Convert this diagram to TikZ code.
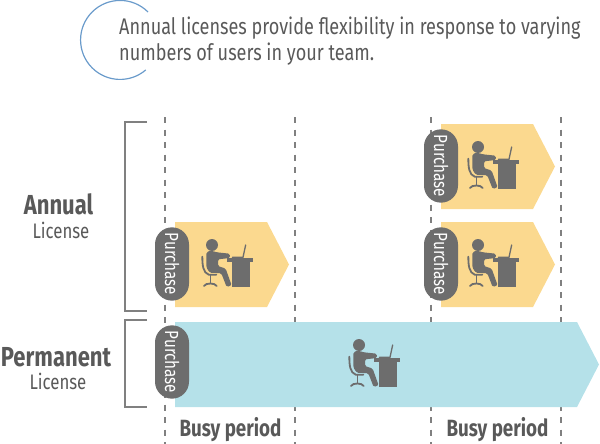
\documentclass[tikz,border=0pt]{standalone}
\usepackage{fontspec}
\setmainfont[FakeStretch=0.8]{Fira Sans}
\definecolor{gr}{HTML}{6D6D6D}
\definecolor{txt}{HTML}{595959}
\definecolor{dashc}{HTML}{808080}
\definecolor{yel}{HTML}{FBD98F}
\definecolor{blu}{HTML}{B5E1E9}
\definecolor{arcb}{HTML}{6A9BCB}
\usetikzlibrary{shapes.misc}
\tikzset{
 guide/.style={draw=dashc,line width=2.5pt,dash pattern=on 6pt off 6.5pt},
 bracket/.style={draw=dashc,line width=1.2pt},
 pill/.style={draw=none,fill=gr,rounded rectangle},
 purchase/.style={text=white,rotate=-90,font=\fontsize{19}{22}\selectfont,inner sep=0pt},
 hd/.style={text=txt,font=\fontsize{27.5}{30}\selectfont\bfseries,inner sep=0pt},
 sb/.style={text=txt,font=\fontsize{21}{24}\selectfont,inner sep=0pt},
 busy/.style={text=txt,font=\fontsize{23.5}{26}\selectfont\bfseries,inner sep=0pt},
 intro/.style={text=txt,font=\fontsize{22.6}{26}\selectfont,inner sep=0pt,anchor=base west},
 person/.pic={
  \begin{scope}[x=0.3333pt,y=-0.3333pt,shift={(-30,-30)}]
  \fill[gr] (57,45) circle[radius=6pt];
  \fill[gr,rounded corners=1.5pt] (40,76) .. controls (40,66) and (48,62) .. (58,63) -- (72,67) -- (110,71) -- (111,84) -- (75,88) -- (75,108) -- (98,116) -- (116,166) -- (101,171) -- (85,130) -- (50,128) -- (40,112) -- cycle;
  \draw[gr,line width=1.8pt,line cap=round] (28,80) .. controls (28,105) and (30,128) .. (47,134) -- (70,134);
  \draw[gr,line width=1.5pt] (52,134) -- (52,158);
  \draw[gr,line width=1.8pt,line cap=round] (33,168) .. controls (38,158) and (66,158) .. (71,168);
  \fill[gr] (103,85) rectangle (180,95);
  \fill[gr] (118,95) rectangle (170,172);
  \draw[gr,line width=1.3pt,line cap=round] (118,82) -- (150,82) -- (158,45);
  \end{scope}
 }
}
\begin{document}
\begin{tikzpicture}[x=1pt,y=-1pt]
\useasboundingbox (0,0) rectangle (600,444);
% intro arc
\coordinate (arcs) at (148,12);
\draw[arcb,line width=1.2pt] (arcs) arc[start angle=45,end angle=310.5,radius=39.5pt];
\node[intro] (t1) at (119,35) {Annual licenses provide flexibility in response to varying};
\node[intro] (t2) at (119,61) {numbers of users in your team.};
% guides
\foreach \x/\n in {165/a,295/b,431/c,561/d}{
 \coordinate (g\n1) at (\x,117);
 \coordinate (g\n2) at (\x,444);
 \draw[guide] (g\n1) -- (g\n2);
}
% brackets
\draw[bracket] (147,122) -- (125,122) -- (125,311) -- (147,311);
\draw[bracket] (147,320) -- (125,320) -- (125,407) -- (147,407);
% labels
\node[hd] (an) at (58.5,204) {Annual};
\node[sb] (anl) at (61,230) {License};
\node[hd] (pe) at (56,357) {Permanent};
\node[sb] (pel) at (58,381.5) {License};
\node[busy] (b1) at (230.5,430) {Busy period};
\node[busy] (b2) at (497.5,430) {Busy period};
% arrows
\foreach \x/\y in {175/222,441/222,441/124}{
 \fill[yel] (\x,\y) -- ++(92,0) -- ++(22,42.5) -- ++(-22,42.5) -- ++(-92,0) -- cycle;
 \pic at (\x+28,\y+18) {person};
}
\fill[blu] (175,322) -- (577,322) -- (599,364.5) -- (577,407) -- (175,407) -- cycle;
\pic at (350,340) {person};
% pills
\foreach \x/\y/\n in {172/264/p1,441/166/p2,441/264/p3,172/362/p4}{
 \node[pill,minimum width=80pt,minimum height=34pt,rotate=-90] (\n) at (\x,\y) {};
 \node[purchase] (\n t) at (\x,\y) {Purchase};
}
\end{tikzpicture}
\end{document}
